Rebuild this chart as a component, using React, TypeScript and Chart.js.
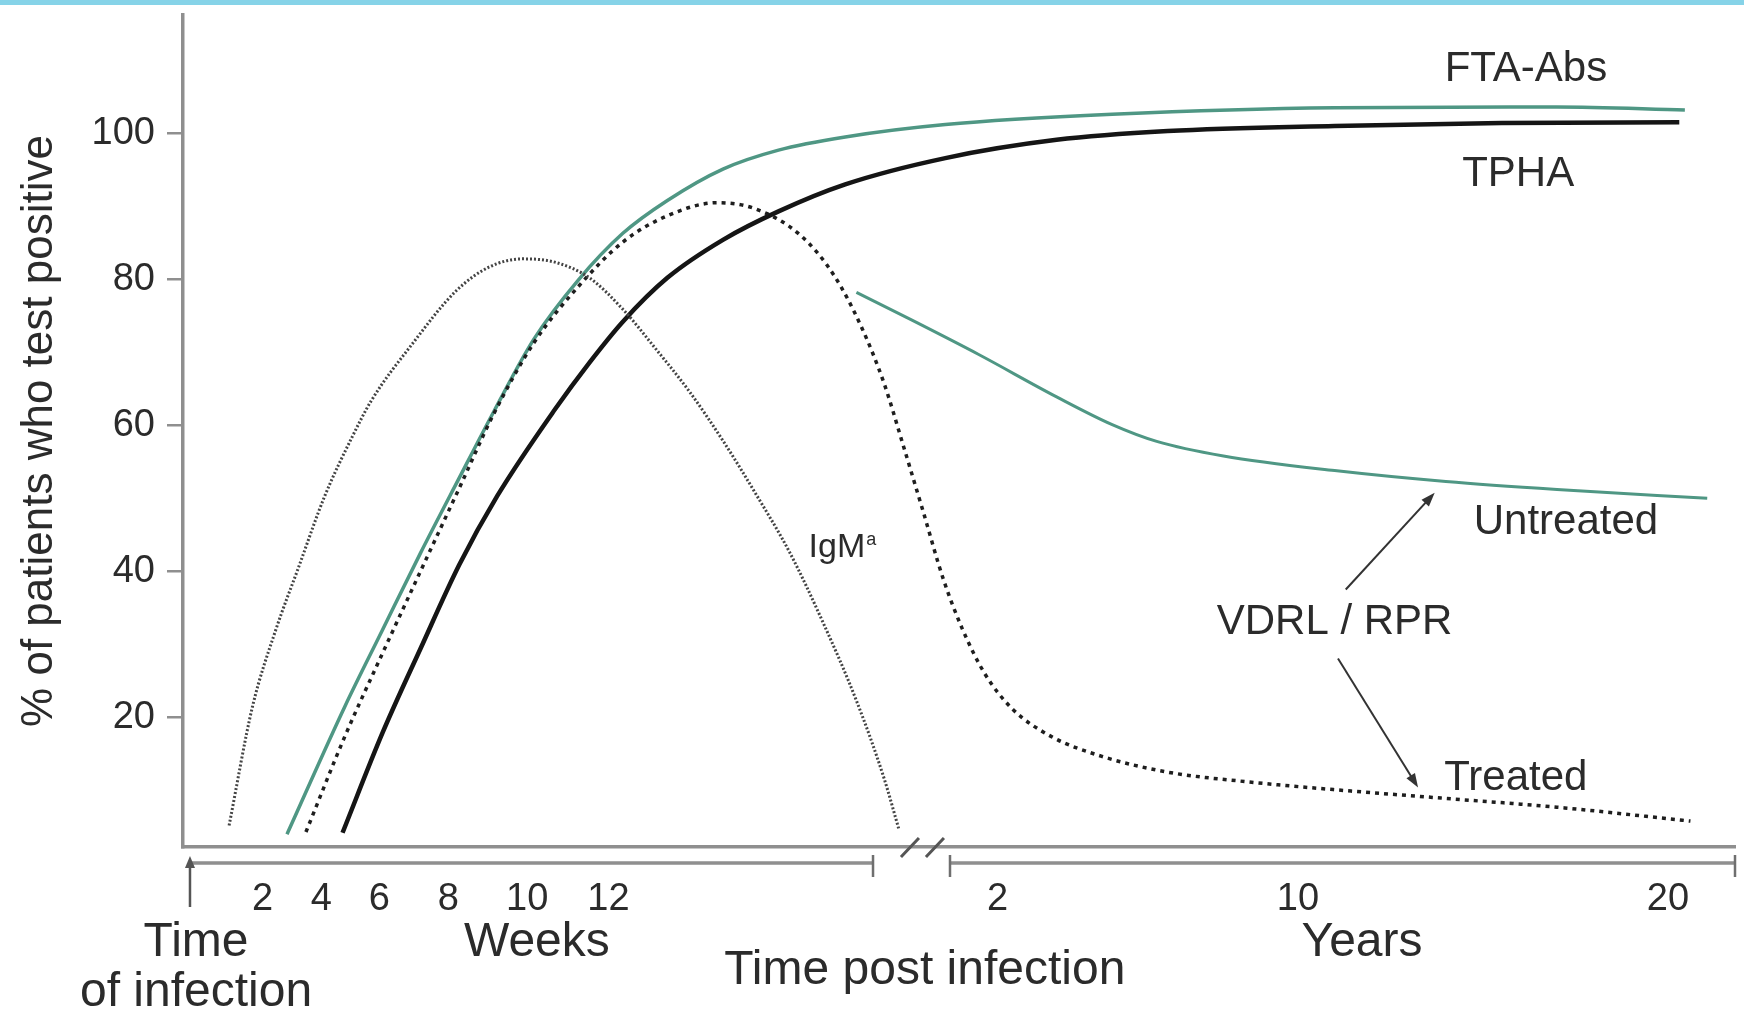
import React, { useEffect, useRef } from "react";
import { Chart, registerables } from "chart.js";

Chart.register(...registerables);

// ---------- data ----------
// x = position along the drawn time line (0 = y axis, 100 = right end of the axis)
const xTickPositions = [5.12, 8.92, 12.65, 17.09, 22.18, 27.41, 52.49, 71.84, 95.68];
const xTickLabels = ["2", "4", "6", "8", "10", "12", "2", "10", "20"];
const yTickValues = [20, 40, 60, 80, 100];

const igmPos = [2.97, 4.48, 5.98, 7.42, 9.13, 10.85, 12.14, 14.72, 17.59, 19.74, 21.89, 24.04, 26.19, 28.34, 30.49, 32.64, 34.79, 36.94, 39.09, 41.24, 43.39, 45.18, 46.11];
const igmVal = [5.2, 21.5, 32.0, 40.4, 50.3, 58.2, 63.4, 71.0, 78.4, 81.7, 82.8, 82.3, 80.2, 75.9, 70.4, 64.6, 57.9, 50.5, 42.6, 33.0, 22.3, 11.6, 4.8];

const ftaPos = [6.7, 10.43, 12.86, 15.3, 17.8, 20.03, 22.61, 25.47, 28.34, 31.21, 34.79, 38.37, 42.67, 49.12, 59.87, 74.2, 88.53, 96.77];
const ftaVal = [4.0, 21.5, 32.0, 42.5, 52.8, 61.9, 71.8, 79.9, 86.3, 90.8, 95.1, 97.7, 99.5, 101.2, 102.6, 103.5, 103.6, 103.2];

const vdrlPos = [7.92, 10.43, 12.86, 15.3, 17.8, 20.03, 22.61, 25.47, 28.34, 31.21, 34.43, 36.94, 39.8, 41.96, 43.75, 45.18, 46.4, 47.69, 48.98, 50.2, 51.63, 53.42, 55.93, 59.15, 63.45, 68.47, 74.2, 81.37, 88.53, 97.13];
const vdrlVal = [4.3, 17.4, 28.8, 40.0, 51.4, 61.6, 71.3, 79.0, 85.1, 88.7, 90.5, 89.6, 86.0, 80.5, 73.3, 65.7, 57.3, 48.2, 39.0, 32.2, 26.1, 21.2, 17.4, 14.7, 12.5, 11.2, 10.1, 8.9, 7.7, 5.8];

const tphaPos = [10.28, 12.86, 15.3, 17.8, 20.24, 23.97, 26.19, 28.34, 31.21, 34.79, 38.37, 42.67, 49.12, 56.29, 63.45, 74.2, 84.95, 96.41];
const tphaVal = [4.2, 17.9, 29.4, 40.9, 50.3, 62.2, 68.6, 74.2, 80.2, 85.4, 89.3, 93.0, 96.6, 99.1, 100.3, 101.0, 101.4, 101.5];

const untreatedPos = [43.39, 46.97, 51.27, 56.29, 59.87, 62.74, 67.04, 74.2, 81.37, 88.53, 98.21];
const untreatedVal = [78.2, 74.4, 69.7, 63.9, 60.1, 57.8, 55.8, 53.8, 52.3, 51.2, 50.0];

// axis landmarks (timeline positions)
const INFECTION_POS = 0.45;
const BREAK_LEFT = 44.46;
const BREAK_RIGHT = 49.42;
const BREAK_SLASHES = [46.84, 48.45];
const X_MIN = 0;
const X_MAX = 100;

// ---------- styles ----------
const FONT = '"Liberation Sans", Arial, Helvetica, sans-serif';
const TEXT = "#2b2b2b";
const AXIS = "#8f8f8f";
const GREEN = "#4f9784";

const belowAxisTexts = [
  { text: "Time", pos: 0.84, dy: 96 },
  { text: "of infection", pos: 0.84, dy: 146 },
  { text: "Weeks", pos: 22.8, dy: 96 },
  { text: "Time post infection", pos: 47.8, dy: 124 },
  { text: "Years", pos: 75.97, dy: 96 },
];

const annotations = [
  { text: "FTA-Abs", x: 86.53, y: 108.8, align: "center" },
  { text: "TPHA", x: 86.03, y: 94.35, align: "center" },
  { text: "Untreated", x: 89.11, y: 46.66, align: "center" },
  { text: "VDRL / RPR", x: 74.2, y: 32.95, align: "center" },
  { text: "Treated", x: 85.88, y: 11.62, align: "center" },
];

const arrows = [
  { x1: 74.92, y1: 37.52, x2: 80.65, y2: 50.77 },
  { x1: 74.42, y1: 28.07, x2: 79.58, y2: 10.4 },
];

const pts = (xs: number[], ys: number[]) => xs.map((x, i) => ({ x, y: ys[i] }));

const decorPlugin = {
  id: "decor",
  afterDraw(chart: any) {
    const { ctx, chartArea, scales } = chart;
    const xs = scales.x;
    const ys = scales.y;
    const px = (v: number) => xs.getPixelForValue(v);
    const py = (v: number) => ys.getPixelForValue(v);
    const base = chartArea.bottom;
    const lineY = base + 16;
    ctx.save();

    // secondary time line
    ctx.strokeStyle = AXIS;
    ctx.lineWidth = 3.5;
    ctx.beginPath();
    ctx.moveTo(px(INFECTION_POS), lineY);
    ctx.lineTo(px(BREAK_LEFT), lineY);
    ctx.moveTo(px(BREAK_RIGHT), lineY);
    ctx.lineTo(px(X_MAX), lineY);
    ctx.stroke();

    ctx.lineWidth = 2.5;
    ctx.strokeStyle = "#6f6f6f";
    ctx.beginPath();
    for (const v of [BREAK_LEFT, BREAK_RIGHT, X_MAX]) {
      ctx.moveTo(px(v), lineY - 8);
      ctx.lineTo(px(v), lineY + 14);
    }
    ctx.stroke();

    // time of infection marker
    const ix = px(INFECTION_POS);
    ctx.strokeStyle = "#555";
    ctx.fillStyle = "#555";
    ctx.lineWidth = 2.5;
    ctx.beginPath();
    ctx.moveTo(ix, lineY);
    ctx.lineTo(ix, lineY + 44);
    ctx.stroke();
    ctx.beginPath();
    ctx.moveTo(ix, lineY - 7);
    ctx.lineTo(ix - 5, lineY + 5);
    ctx.lineTo(ix + 5, lineY + 5);
    ctx.closePath();
    ctx.fill();

    // break slashes on the plot base line
    ctx.strokeStyle = "#555";
    ctx.lineWidth = 3;
    ctx.beginPath();
    for (const v of BREAK_SLASHES) {
      const sx = px(v);
      ctx.moveTo(sx - 9, base + 10);
      ctx.lineTo(sx + 9, base - 9);
    }
    ctx.stroke();

    // texts below the axis
    ctx.fillStyle = TEXT;
    ctx.textAlign = "center";
    ctx.textBaseline = "middle";
    ctx.font = `48px ${FONT}`;
    for (const t of belowAxisTexts) {
      ctx.fillText(t.text, px(t.pos), base + t.dy);
    }

    // annotations
    ctx.font = `42px ${FONT}`;
    for (const a of annotations) {
      ctx.textAlign = a.align as CanvasTextAlign;
      ctx.fillText(a.text, px(a.x), py(a.y));
    }
    // IgM with superscript a
    ctx.textAlign = "left";
    ctx.font = `34px ${FONT}`;
    const igx = px(40.31);
    const igy = py(43.2);
    ctx.fillText("IgM", igx, igy);
    const w = ctx.measureText("IgM").width;
    ctx.font = `18px ${FONT}`;
    ctx.fillText("a", igx + w + 1, igy - 8);

    // arrows
    ctx.strokeStyle = "#333";
    ctx.fillStyle = "#333";
    ctx.lineWidth = 2;
    for (const a of arrows) {
      const x1 = px(a.x1), y1 = py(a.y1), x2 = px(a.x2), y2 = py(a.y2);
      const ang = Math.atan2(y2 - y1, x2 - x1);
      ctx.beginPath();
      ctx.moveTo(x1, y1);
      ctx.lineTo(x2 - 8 * Math.cos(ang), y2 - 8 * Math.sin(ang));
      ctx.stroke();
      ctx.beginPath();
      ctx.moveTo(x2, y2);
      ctx.lineTo(x2 - 14 * Math.cos(ang) + 5 * Math.sin(ang), y2 - 14 * Math.sin(ang) - 5 * Math.cos(ang));
      ctx.lineTo(x2 - 14 * Math.cos(ang) - 5 * Math.sin(ang), y2 - 14 * Math.sin(ang) + 5 * Math.cos(ang));
      ctx.closePath();
      ctx.fill();
    }
    ctx.restore();
  },
};

export default function App() {
  const ref = useRef<HTMLCanvasElement | null>(null);

  useEffect(() => {
    if (!ref.current) return;
    const line = (data: any, color: string, width: number, dash: number[] = []) => ({
      data,
      borderColor: color,
      borderWidth: width,
      borderDash: dash,
      pointRadius: 0,
      fill: false,
      cubicInterpolationMode: "monotone",
      borderCapStyle: "butt",
    });
    const chart = new Chart(ref.current, {
      type: "line",
      data: {
        datasets: [
          { label: "IgM", ...line(pts(igmPos, igmVal), "#444444", 3, [2, 2]) },
          { label: "VDRL / RPR treated", ...line(pts(vdrlPos, vdrlVal), "#1e1e1e", 3.5, [4, 5]) },
          { label: "TPHA", ...line(pts(tphaPos, tphaVal), "#151515", 4.5) },
          { label: "FTA-Abs", ...line(pts(ftaPos, ftaVal), GREEN, 3.5) },
          { label: "VDRL / RPR untreated", ...line(pts(untreatedPos, untreatedVal), GREEN, 3) },
        ] as any,
      },
      options: {
        animation: false,
        responsive: false,
        devicePixelRatio: 1,
        layout: { padding: { left: 0, top: 15, right: 9, bottom: 0 } },
        plugins: { legend: { display: false }, tooltip: { enabled: false } },
        scales: {
          x: {
            type: "linear",
            min: X_MIN,
            max: X_MAX,
            afterBuildTicks: (s: any) => {
              s.ticks = xTickPositions.map((v) => ({ value: v }));
            },
            afterFit: (s: any) => {
              s.height = 169;
              s.paddingLeft = 0;
              s.paddingRight = 0;
            },
            ticks: {
              autoSkip: false,
              maxRotation: 0,
              padding: 30,
              color: TEXT,
              font: { size: 38, family: FONT },
              callback: (_v: any, i: number) => xTickLabels[i],
            },
            grid: { display: false, drawTicks: false, tickLength: 0 },
            border: { display: true, color: AXIS, width: 3.5 },
          },
          y: {
            type: "linear",
            min: 2.25,
            max: 116.2,
            afterBuildTicks: (s: any) => {
              s.ticks = yTickValues.map((v) => ({ value: v }));
            },
            afterFit: (s: any) => {
              s.width = 183;
              s.paddingTop = 0;
              s.paddingBottom = 0;
            },
            ticks: {
              padding: 12,
              color: TEXT,
              font: { size: 38, family: FONT },
            },
            grid: { display: true, drawOnChartArea: false, drawTicks: true, tickLength: 16, color: AXIS, lineWidth: 2.5 },
            border: { display: true, color: AXIS, width: 3.5 },
            title: {
              display: true,
              text: "% of patients who test positive",
              color: TEXT,
              font: { size: 44, family: FONT },
              padding: { top: 13, bottom: 0 },
            },
          },
        },
      } as any,
      plugins: [decorPlugin],
    });
    return () => chart.destroy();
  }, []);

  return (
    <div style={{ position: "absolute", left: 0, top: 0, width: 1744, height: 1016, background: "#fff", overflow: "hidden" }}>
      <div style={{ position: "absolute", left: 0, top: 0, width: 1744, height: 5, background: "#86d3e8" }} />
      <canvas ref={ref} width={1744} height={1016} style={{ width: 1744, height: 1016, display: "block" }} />
    </div>
  );
}
